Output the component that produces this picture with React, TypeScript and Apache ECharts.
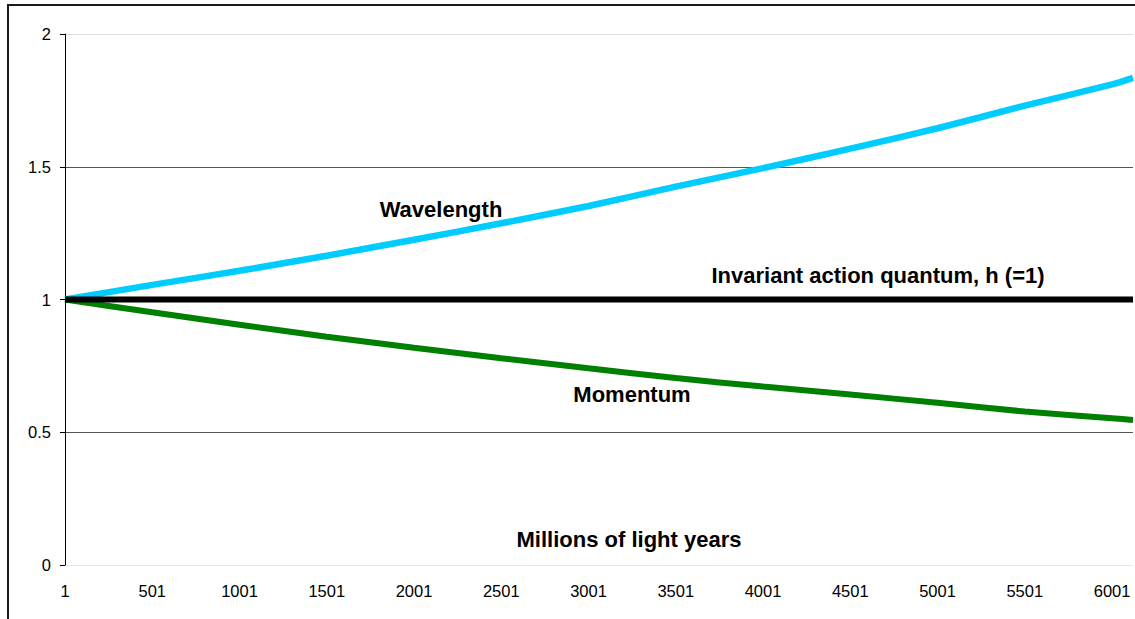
import React, { useEffect, useRef } from "react";
import * as echarts from "echarts";

// Millions of light years (x values) at which the curves were read
const years = [1, 501, 1001, 1501, 2001, 2501, 3001, 3501, 4001, 4501, 5001, 5501, 6001, 6121];
const wavelength = [1.0, 1.055, 1.108, 1.165, 1.225, 1.287, 1.352, 1.425, 1.495, 1.568, 1.645, 1.73, 1.81, 1.835];
const momentum = [1.0, 0.952, 0.905, 0.86, 0.818, 0.779, 0.741, 0.704, 0.672, 0.642, 0.611, 0.578, 0.553, 0.546];
const action = [1, 1, 1, 1, 1, 1, 1, 1, 1, 1, 1, 1, 1, 1];
const yTicks = [0, 0.5, 1, 1.5, 2];

const pairs = (vals: number[]) => years.map((y, i) => [y - 1, vals[i]]);

export default function App() {
  const ref = useRef<HTMLDivElement>(null);
  useEffect(() => {
    const chart = echarts.init(ref.current!, null, { renderer: "svg" });
    const boldText = (text: string, x: number, y: number) => ({
      type: "text",
      x,
      y,
      style: {
        text,
        fontFamily: "Liberation Sans, Arial, sans-serif",
        fontWeight: "bold",
        fontSize: 22,
        fill: "#000",
        textAlign: "center",
        textVerticalAlign: "middle",
      },
      z: 10,
    });
    chart.setOption({
      animation: false,
      backgroundColor: "#fff",
      grid: { left: 65, right: 2, top: 34, bottom: 54, containLabel: false },
      xAxis: {
        type: "value",
        min: 0,
        max: 6120,
        interval: 500,
        axisLine: { show: false },
        axisTick: { show: false },
        splitLine: { show: false },
        axisLabel: {
          margin: 17,
          fontFamily: "Liberation Sans, Arial, sans-serif",
          fontSize: 16.5,
          color: "#000",
          formatter: (v: number) => (v % 500 === 0 ? String(v + 1) : ""),
          showMaxLabel: false,
        },
      },
      yAxis: {
        type: "value",
        min: yTicks[0],
        max: yTicks[yTicks.length - 1],
        interval: 0.5,
        axisLine: { show: true, lineStyle: { color: "#000", width: 1 } },
        axisTick: { show: true, length: 5, lineStyle: { color: "#000" } },
        axisLabel: {
          margin: 14,
          fontFamily: "Liberation Sans, Arial, sans-serif",
          fontSize: 16.5,
          color: "#000",
        },
        splitLine: {
          show: true,
          lineStyle: { color: ["#e6e6e6", "#555", "#555", "#555", "#dcdcdc"], width: 1 },
        },
      },
      graphic: [
        {
          type: "rect",
          shape: { x: 8, y: 5, width: 1200, height: 700 },
          style: { fill: "none", stroke: "#1a1a1a", lineWidth: 2 },
          z: 20,
        },
        boldText("Wavelength", 441, 209),
        boldText("Invariant action quantum, h (=1)", 878, 275),
        boldText("Momentum", 632, 394),
        boldText("Millions of light years", 629, 539),
      ],
      series: [
        {
          name: "Action",
          type: "line",
          data: pairs(action),
          symbol: "none",
          lineStyle: { color: "#000", width: 6 },
          z: 3,
        },
        {
          name: "Wavelength",
          type: "line",
          data: pairs(wavelength),
          symbol: "none",
          smooth: 0.2,
          lineStyle: { color: "#00ccff", width: 6.5 },
          z: 2,
        },
        {
          name: "Momentum",
          type: "line",
          data: pairs(momentum),
          symbol: "none",
          smooth: 0.2,
          lineStyle: { color: "#008000", width: 6 },
          z: 2,
        },
      ],
    });
    return () => chart.dispose();
  }, []);
  return (
    <div
      ref={ref}
      style={{ position: "fixed", left: 0, top: 0, width: 1135, height: 619, background: "#fff" }}
    />
  );
}
